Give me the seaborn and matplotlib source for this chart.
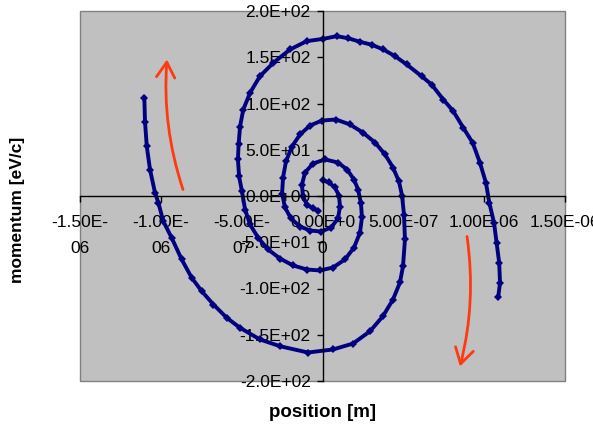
import matplotlib
matplotlib.use("Agg")
import matplotlib.pyplot as plt
import seaborn as sns
import pandas as pd

# ---- data (position in micrometres, momentum in eV/c) ----
arm_a_pos_um = [-1.102, -1.098, -1.087, -1.067, -1.036, -1.015, -0.985, -0.933, -0.871, -0.809,
                -0.747, -0.675, -0.592, -0.510, -0.387, -0.263, -0.090, 0.065, 0.189, 0.294,
                0.374, 0.436, 0.479, 0.498, 0.510, 0.504, 0.492, 0.473, 0.436, 0.387,
                0.325, 0.250, 0.170, 0.083, -0.003, -0.077, -0.139, -0.189, -0.226, -0.244,
                -0.250, -0.232, -0.195, -0.139, -0.077, -0.009, 0.053, 0.096, 0.108, 0.102,
                0.077, 0.040, 0.003]
arm_a_mom = [106.2, 80.5, 53.8, 28.6, 3.5, -7.4, -27.2, -45.2, -68.6, -88.4,
             -102.9, -117.3, -131.7, -142.5, -155.1, -162.4, -169.2, -165.9, -159.5, -146.2,
             -129.9, -111.9, -93.5, -75.9, -47.0, -20.0, 0.5, 15.7, 30.8, 44.9,
             57.8, 68.6, 77.3, 82.7, 81.6, 76.2, 66.5, 53.5, 37.3, 20.0,
             2.7, -12.4, -24.3, -33.0, -37.3, -38.4, -34.1, -24.3, -11.4, 0.5,
             9.2, 14.6, 16.8]

arm_b_pos_um = [1.087, 1.098, 1.093, 1.077, 1.061, 1.032, 1.011, 0.974, 0.929, 0.871,
                0.809, 0.747, 0.675, 0.613, 0.521, 0.450, 0.376, 0.305, 0.232, 0.160, 0.088, 0.005, -0.098,
                -0.201, -0.304, -0.387, -0.448, -0.490, -0.510, -0.519, -0.523, -0.516, -0.498,
                -0.479, -0.448, -0.399, -0.337, -0.263, -0.182, -0.096, -0.015, 0.065, 0.139,
                0.195, 0.232, 0.244, 0.238, 0.220, 0.195, 0.152, 0.096, 0.015, -0.059,
                -0.108, -0.127, -0.121, -0.096, -0.059, -0.028]
arm_b_mom = [-109.0, -93.8, -72.2, -50.6, -29.0, -7.4, 14.3, 35.9, 57.5, 73.7,
             91.7, 104.3, 120.5, 129.5, 142.2, 151.0, 158.4, 163.5, 166.7, 170.5, 172.8, 169.9, 167.4,
             158.4, 144.0, 129.5, 111.6, 93.5, 75.1, 55.7, 39.5, 21.1, 4.9,
             -14.6, -30.8, -44.9, -57.8, -67.6, -75.1, -79.5, -80.5, -77.3, -68.6,
             -55.7, -39.5, -23.2, -8.1, 7.0, 17.8, 28.6, 36.2, 39.5, 35.1,
             25.4, 12.4, -0.5, -9.2, -13.5, -15.7]

x_ticks = [-1.5e-6, -1.0e-6, -0.5e-6, 0.0, 0.5e-6, 1.0e-6, 1.5e-6]
x_tick_labels = ["-1.50E-\n06", "-1.00E-\n06", "-5.00E-\n07", "0.00E+0\n0",
                 "5.00E-07", "1.00E-06", "1.50E-06"]
y_ticks = [-200, -150, -100, -50, 0, 50, 100, 150, 200]
y_tick_labels = ["-2.0E+02", "-1.5E+02", "-1.0E+02", "-5.0E+01", "0.0E+00",
                 "5.0E+01", "1.0E+02", "1.5E+02", "2.0E+02"]

df = pd.concat([
    pd.DataFrame({"position": [v * 1e-6 for v in arm_a_pos_um], "momentum": arm_a_mom, "arm": "A"}),
    pd.DataFrame({"position": [v * 1e-6 for v in arm_b_pos_um], "momentum": arm_b_mom, "arm": "B"}),
], ignore_index=True)

# ---- style ----
plt.rcParams["font.family"] = ["Liberation Sans", "DejaVu Sans"]
navy = "#000080"
red = "#FF3A10"

fig = plt.figure(figsize=(5.93, 4.28), dpi=100)
fig.patch.set_facecolor("white")
ax = fig.add_axes([80 / 593, 47 / 428, 485 / 593, 370 / 428])
ax.set_facecolor("#C0C0C0")
ax.patch.set_edgecolor("#808080")
ax.patch.set_linewidth(1.0)

sns.lineplot(data=df, x="position", y="momentum", units="arm", estimator=None,
             sort=False, color=navy, linewidth=2.8, marker="D", markersize=3.8,
             markeredgewidth=0, ax=ax, legend=False)

ax.set_xlim(-1.5e-6, 1.5e-6)
ax.set_ylim(-200, 200)

for s in ["top", "right"]:
    ax.spines[s].set_visible(False)
ax.spines["left"].set_position(("data", 0))
ax.spines["bottom"].set_position(("data", 0))
ax.spines["left"].set_color("black")
ax.spines["bottom"].set_color("black")
ax.spines["left"].set_linewidth(1.0)
ax.spines["bottom"].set_linewidth(1.0)

ax.set_xticks(x_ticks, x_tick_labels)
ax.set_yticks(y_ticks, y_tick_labels)
ax.tick_params(axis="x", direction="out", length=4, width=1, pad=10,
               labelsize=12.5, colors="black")
ax.tick_params(axis="y", direction="out", length=4.5, width=1, pad=4,
               labelsize=12.5, colors="black")
for lab in ax.get_xticklabels():
    lab.set_linespacing(1.85)
    lab.set_horizontalalignment("center")
ax.grid(False)

ax.set_xlabel("position [m]", fontsize=13.5, fontweight="bold")
ax.set_ylabel("momentum [eV/c]", fontsize=12.5, fontweight="bold")
ax.xaxis.set_label_coords(0.5, -0.084)
ax.yaxis.set_label_coords(-0.128, 0.462)
ax.xaxis.label.set_verticalalignment("center")
ax.yaxis.label.set_verticalalignment("center")

# ---- direction arrows ----
arrow_style = "->,head_length=0.55,head_width=0.33"
ax.annotate("", xy=(-0.962e-6, 147.6), xytext=(-0.863e-6, 7.0),
            arrowprops=dict(arrowstyle=arrow_style, color=red, lw=2.0,
                            connectionstyle="arc3,rad=-0.1", mutation_scale=20,
                            shrinkA=0, shrinkB=0))
ax.annotate("", xy=(0.850e-6, -184.3), xytext=(0.894e-6, -43.8),
            arrowprops=dict(arrowstyle=arrow_style, color=red, lw=2.0,
                            connectionstyle="arc3,rad=-0.1", mutation_scale=20,
                            shrinkA=0, shrinkB=0))

fig.savefig("out.png", dpi=100)
